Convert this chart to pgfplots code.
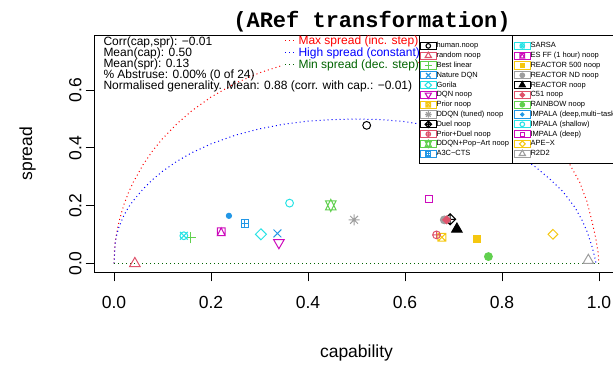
\documentclass[border=0pt]{standalone}
\usepackage{pgfplots}
\pgfplotsset{compat=1.18}
\usepackage{fontspec}
\setmainfont{Liberation Sans}
\newfontfamily\monob{Liberation Mono}
\definecolor{rblack}{HTML}{000000}
\definecolor{rred}{HTML}{DF536B}
\definecolor{rgreen}{HTML}{61D04F}
\definecolor{rblue}{HTML}{2297E6}
\definecolor{rcyan}{HTML}{28E2E5}
\definecolor{rmag}{HTML}{CD0BBC}
\definecolor{ryel}{HTML}{F5C710}
\definecolor{rgray}{HTML}{9E9E9E}
\definecolor{dkgreen}{HTML}{006400}
\def\pms{\pgfplotmarksize}
\newcommand\mtri[3]{\pgfpathmoveto{\pgfqpoint{0pt}{#1\pms}}\pgfpathlineto{\pgfqpoint{#3\pms}{#2\pms}}\pgfpathlineto{\pgfqpoint{-#3\pms}{#2\pms}}\pgfpathclose}
\newcommand\msq[1]{\pgfpathmoveto{\pgfqpoint{-#1\pms}{-#1\pms}}\pgfpathlineto{\pgfqpoint{#1\pms}{-#1\pms}}\pgfpathlineto{\pgfqpoint{#1\pms}{#1\pms}}\pgfpathlineto{\pgfqpoint{-#1\pms}{#1\pms}}\pgfpathclose}
\newcommand\mdia[1]{\pgfpathmoveto{\pgfqpoint{0pt}{#1\pms}}\pgfpathlineto{\pgfqpoint{#1\pms}{0pt}}\pgfpathlineto{\pgfqpoint{0pt}{-#1\pms}}\pgfpathlineto{\pgfqpoint{-#1\pms}{0pt}}\pgfpathclose}
\newcommand\mplus[1]{\pgfpathmoveto{\pgfqpoint{-#1\pms}{0pt}}\pgfpathlineto{\pgfqpoint{#1\pms}{0pt}}\pgfpathmoveto{\pgfqpoint{0pt}{-#1\pms}}\pgfpathlineto{\pgfqpoint{0pt}{#1\pms}}}
\newcommand\mx[1]{\pgfpathmoveto{\pgfqpoint{-#1\pms}{-#1\pms}}\pgfpathlineto{\pgfqpoint{#1\pms}{#1\pms}}\pgfpathmoveto{\pgfqpoint{-#1\pms}{#1\pms}}\pgfpathlineto{\pgfqpoint{#1\pms}{-#1\pms}}}
\newcommand\mcirc[1]{\pgfpathcircle{\pgfpointorigin}{#1\pms}}
\pgfdeclareplotmark{pch1}{\mcirc{1}\pgfusepathqstroke}
\pgfdeclareplotmark{pch2}{\mtri{1.555}{-0.778}{1.347}\pgfusepathqstroke}
\pgfdeclareplotmark{pch3}{\mplus{1.414}\pgfusepathqstroke}
\pgfdeclareplotmark{pch4}{\mx{1}\pgfusepathqstroke}
\pgfdeclareplotmark{pch5}{\mdia{1.414}\pgfusepathqstroke}
\pgfdeclareplotmark{pch6}{\mtri{-1.555}{0.778}{1.347}\pgfusepathqstroke}
\pgfdeclareplotmark{pch7}{\msq{1}\mx{1}\pgfusepathqstroke}
\pgfdeclareplotmark{pch8}{\mx{1}\mplus{1.414}\pgfusepathqstroke}
\pgfdeclareplotmark{pch9}{\mdia{1.414}\mplus{1.414}\pgfusepathqstroke}
\pgfdeclareplotmark{pch10}{\mcirc{1}\mplus{1}\pgfusepathqstroke}
\pgfdeclareplotmark{pch11}{\mtri{-1.555}{1.166}{1.347}\mtri{1.555}{-1.166}{1.347}\pgfusepathqstroke}
\pgfdeclareplotmark{pch12}{\msq{1}\mplus{1}\pgfusepathqstroke}
\pgfdeclareplotmark{pch13}{\mcirc{1}\mx{1}\pgfusepathqstroke}
\pgfdeclareplotmark{pch14}{\msq{1}\pgfpathmoveto{\pgfqpoint{0pt}{\pms}}\pgfpathlineto{\pgfqpoint{\pms}{-\pms}}\pgfpathlineto{\pgfqpoint{-\pms}{-\pms}}\pgfpathclose\pgfusepathqstroke}
\pgfdeclareplotmark{pch15}{\msq{1}\pgfusepathqfill}
\pgfdeclareplotmark{pch16}{\mcirc{1}\pgfusepathqfillstroke}
\pgfdeclareplotmark{pch17}{\mtri{1.555}{-0.778}{1.347}\pgfusepathqfillstroke}
\pgfdeclareplotmark{pch18}{\mdia{1}\pgfusepathqfillstroke}
\pgfdeclareplotmark{pch19}{\mcirc{1}\pgfusepathqfillstroke}
\pgfdeclareplotmark{pch20}{\mcirc{0.667}\pgfusepathqfillstroke}
\pgfdeclareplotmark{pch21}{\mcirc{1}\pgfusepathqstroke}
\pgfdeclareplotmark{pch22}{\msq{0.886}\pgfusepathqstroke}
\pgfdeclareplotmark{pch23}{\mdia{1.253}\pgfusepathqstroke}
\pgfdeclareplotmark{pch24}{\mtri{1.555}{-0.778}{1.347}\pgfusepathqstroke}
\newcommand\lc[1]{\makebox[77pt][l]{#1}}
\newcommand\rc[1]{\makebox[95pt][l]{#1}}
\pgfplotsset{rpt/.style={only marks, mark size=3.9pt, line width=1pt,
  legend image code/.code={\path (-8.3pt,-3.6pt) rectangle (7.7pt,3.6pt);
   \draw[overlay, ##1, mark size=2.3pt, line width=1.1pt] plot coordinates {(0pt,0pt)};}}}
\begin{document}
\begin{tikzpicture}
\begin{axis}[
  at={(94.6pt,-272.3pt)}, anchor=south west,
  scale only axis, width=523.8pt, height=237.2pt,
  xmin=-0.04, xmax=1.04, ymin=-0.03045, ymax=0.79045,
  axis line style={line width=1pt},
  xtick={0,0.2,0.4,0.6,0.8,1}, ytick={0,0.2,0.4,0.6},
  xticklabels={0.0,0.2,0.4,0.6,0.8,1.0}, yticklabels={0.0,0.2,0.4,0.6},
  tick align=outside, tick pos=left,
  major tick length=9pt, tick style={line width=1pt, black},
  ticklabel style={font=\fontsize{17.5}{20}\selectfont},
  xticklabel style={anchor=base, inner sep=0pt, yshift=-27pt},
  yticklabel style={rotate=90, anchor=base, inner sep=0pt, yshift=4.3pt},
  legend style={at={(axis cs:0.62887,0.79045)}, anchor=north west, draw=black, line width=1pt, fill=white,
    inner xsep=0pt, inner ysep=6.2pt, row sep=1.6pt, column sep=0pt,
    font=\fontsize{7.5}{8}\selectfont,
    nodes={inner sep=0pt, text height=5.6pt, text depth=1.6pt, anchor=west}},
  legend cell align=left, legend columns=12, transpose legend,
]
\addplot[forget plot, red, line width=1pt, dash pattern=on 1pt off 3pt] coordinates {
(0,0) (0.001,0.0455) (0.0025,0.072) (0.005,0.1016) (0.01,0.143) (0.02,0.202) (0.03,0.246) (0.04,0.282) (0.06,0.342) (0.08,0.391) (0.1,0.432) (0.13,0.484) (0.16,0.528) (0.2,0.576) (0.25,0.624) (0.3,0.660) (0.35,0.687) (0.4,0.706) (0.45,0.716) (0.5,0.72) (0.55,0.716) (0.6,0.706) (0.65,0.687) (0.7,0.660) (0.75,0.624) (0.8,0.576) (0.84,0.528) (0.87,0.484) (0.9,0.432) (0.92,0.391) (0.94,0.342) (0.96,0.282) (0.975,0.215) (0.985,0.150) (0.993,0.090) (0.998,0.04) (1,0)};
\addplot[forget plot, blue, line width=1pt, dash pattern=on 1pt off 3pt] coordinates {
(0,0) (0.0025,0.07) (0.005,0.095) (0.01,0.125) (0.02,0.165) (0.03,0.195) (0.04,0.218) (0.06,0.258) (0.08,0.291) (0.1,0.319) (0.13,0.354) (0.16,0.383) (0.2,0.414) (0.25,0.444) (0.3,0.466) (0.35,0.482) (0.4,0.493) (0.45,0.498) (0.5,0.5) (0.55,0.498) (0.6,0.491) (0.65,0.477) (0.7,0.458) (0.75,0.433) (0.8,0.401) (0.84,0.368) (0.87,0.333) (0.9,0.290) (0.925,0.250) (0.95,0.195) (0.965,0.150) (0.975,0.112) (0.985,0.062) (0.99,0.030) (0.994,0)};
\addplot[forget plot, dkgreen, line width=1pt, dash pattern=on 1pt off 3pt] coordinates {(0,0) (1,0)};
\addplot[rpt, color=rblack, mark=pch1] coordinates {(0.521,0.478)}; \addlegendentry{\lc{human.noop}}
\addplot[rpt, color=rred, mark=pch2] coordinates {(0.043,0.0)}; \addlegendentry{\lc{random noop}}
\addplot[rpt, color=rgreen, mark=pch3] coordinates {(0.158,0.089)}; \addlegendentry{\lc{Best linear}}
\addplot[rpt, color=rblue, mark=pch4] coordinates {(0.337,0.104)}; \addlegendentry{\lc{Nature DQN}}
\addplot[rpt, color=rcyan, mark=pch5] coordinates {(0.303,0.101)}; \addlegendentry{\lc{Gorila}}
\addplot[rpt, color=rmag, mark=pch6] coordinates {(0.340,0.072)}; \addlegendentry{\lc{DQN noop}}
\addplot[rpt, color=ryel, mark=pch7] coordinates {(0.676,0.091)}; \addlegendentry{\lc{Prior noop}}
\addplot[rpt, color=rgray, mark=pch8] coordinates {(0.495,0.151)}; \addlegendentry{\lc{DDQN (tuned) noop}}
\addplot[rpt, color=rblack, mark=pch9] coordinates {(0.693,0.153)}; \addlegendentry{\lc{Duel noop}}
\addplot[rpt, color=rred, mark=pch10] coordinates {(0.665,0.099)}; \addlegendentry{\lc{Prior+Duel noop}}
\addplot[rpt, color=rgreen, mark=pch11] coordinates {(0.447,0.201)}; \addlegendentry{\lc{DDQN+Pop−Art noop}}
\addplot[rpt, color=rblue, mark=pch12] coordinates {(0.270,0.139)}; \addlegendentry{\lc{A3C−CTS}}
\addplot[rpt, color=rcyan, mark=pch13] coordinates {(0.144,0.096)}; \addlegendentry{\rc{SARSA}}
\addplot[rpt, color=rmag, mark=pch14] coordinates {(0.221,0.110)}; \addlegendentry{\rc{ES FF (1 hour) noop}}
\addplot[rpt, color=ryel, mark=pch15] coordinates {(0.749,0.084)}; \addlegendentry{\rc{REACTOR 500 noop}}
\addplot[rpt, color=rgray, mark=pch16] coordinates {(0.681,0.151)}; \addlegendentry{\rc{REACTOR ND noop}}
\addplot[rpt, color=rblack, mark=pch17] coordinates {(0.707,0.119)}; \addlegendentry{\rc{REACTOR noop}}
\addplot[rpt, color=rred, mark=pch18] coordinates {(0.686,0.151)}; \addlegendentry{\rc{C51 noop}}
\addplot[rpt, color=rgreen, mark=pch19] coordinates {(0.772,0.024)}; \addlegendentry{\rc{RAINBOW noop}}
\addplot[rpt, color=rblue, mark=pch20] coordinates {(0.237,0.165)}; \addlegendentry{\rc{IMPALA (deep,multi−task)}}
\addplot[rpt, color=rcyan, mark=pch21] coordinates {(0.362,0.209)}; \addlegendentry{\rc{IMPALA (shallow)}}
\addplot[rpt, color=rmag, mark=pch22] coordinates {(0.650,0.224)}; \addlegendentry{\rc{IMPALA (deep)}}
\addplot[rpt, color=ryel, mark=pch23] coordinates {(0.905,0.101)}; \addlegendentry{\rc{APE−X}}
\addplot[rpt, color=rgray, mark=pch24] coordinates {(0.978,0.011)}; \addlegendentry{\rc{R2D2}}
\end{axis}
% mini legend (white background)
\fill[white] (283pt,-35.6pt) rectangle (418.4pt,-72pt);
\draw[red, line width=1pt, dash pattern=on 1pt off 3pt] (285pt,-40.5pt) -- (295pt,-40.5pt);
\draw[blue, line width=1pt, dash pattern=on 1pt off 3pt] (285pt,-52.5pt) -- (295pt,-52.5pt);
\draw[dkgreen, line width=1pt, dash pattern=on 1pt off 3pt] (285pt,-64.5pt) -- (295pt,-64.5pt);
\begin{scope}[every node/.style={anchor=base west, inner sep=0pt, font=\fontsize{12}{13}\selectfont}]
\node[text=red] at (298.3pt,-44.5pt) {Max spread (inc. step)};
\node[text=blue] at (298.3pt,-56.5pt) {High spread (constant)};
\node[text=dkgreen] at (298.3pt,-68.5pt) {Min spread (dec. step)};
\node at (103.3pt,-45.8pt) {Corr(cap,spr): −0.01};
\node at (103.3pt,-56.7pt) {Mean(cap): 0.50};
\node at (103.3pt,-67.6pt) {Mean(spr): 0.13};
\node at (103.3pt,-78.5pt) {\% Abstruse: 0.00\% (0 of 24)};
\node at (103.3pt,-89.4pt) {Normalised generality. Mean: 0.88 (corr. with cap.: −0.01)};
\end{scope}
\draw[line width=1pt] (512pt,-35.1pt) -- (512pt,-162.9pt);
\node[anchor=base, inner sep=0pt, font=\monob\bfseries\fontsize{22}{24}\selectfont] at (372pt,-28pt) {(ARef transformation)};
\node[anchor=base, inner sep=0pt, font=\fontsize{17.5}{20}\selectfont] at (356.5pt,-357pt) {capability};
\node[anchor=base, rotate=90, inner sep=0pt, font=\fontsize{17.5}{20}\selectfont] at (32pt,-153.7pt) {spread};
\pgfresetboundingbox
\useasboundingbox (0pt,0pt) rectangle (613pt,-366pt);
\end{tikzpicture}
\end{document}
